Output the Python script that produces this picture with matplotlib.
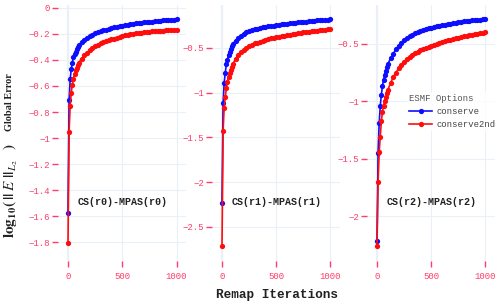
import numpy as np
import matplotlib
matplotlib.use("Agg")
import matplotlib.pyplot as plt

# remap iteration grid (dense near 0, every 25 after 100)
iterations = list(range(0, 101, 10)) + list(range(125, 1001, 25))

# log10 global error
conserve_r0 = [-1.58, -0.71, -0.55, -0.47, -0.42, -0.38, -0.355, -0.335, -0.315, -0.30, -0.285,
               -0.262, -0.243, -0.228, -0.215, -0.204, -0.195, -0.187, -0.180,
               -0.173, -0.167, -0.161, -0.155, -0.150, -0.145, -0.140, -0.135, -0.131, -0.127,
               -0.124, -0.121, -0.118, -0.115, -0.112, -0.110, -0.108, -0.106, -0.104, -0.102,
               -0.100, -0.098, -0.096, -0.094, -0.093, -0.091, -0.090, -0.088]
conserve2nd_r0 = [-1.81, -0.95, -0.75, -0.65, -0.59, -0.545, -0.51, -0.48, -0.46, -0.44, -0.42,
                  -0.39, -0.365, -0.345, -0.325, -0.31, -0.295, -0.282, -0.270,
                  -0.262, -0.255, -0.248, -0.242, -0.236, -0.228, -0.221, -0.215, -0.210, -0.206,
                  -0.202, -0.198, -0.195, -0.192, -0.189, -0.186, -0.184, -0.182, -0.180, -0.178,
                  -0.177, -0.175, -0.174, -0.173, -0.172, -0.171, -0.170, -0.169]
conserve_r1 = [-2.235, -1.12, -0.89, -0.78, -0.68, -0.634, -0.575, -0.54, -0.51, -0.48, -0.455,
               -0.418, -0.388, -0.362, -0.340, -0.325, -0.312, -0.300, -0.290,
               -0.283, -0.277, -0.271, -0.265, -0.260, -0.255, -0.250, -0.245, -0.241, -0.237,
               -0.233, -0.229, -0.225, -0.221, -0.218, -0.214, -0.211, -0.208, -0.205, -0.202,
               -0.199, -0.196, -0.193, -0.190, -0.188, -0.185, -0.183, -0.180]
conserve2nd_r1 = [-2.71, -1.43, -1.17, -1.05, -0.95, -0.876, -0.82, -0.78, -0.745, -0.71, -0.68,
                  -0.62, -0.58, -0.545, -0.52, -0.50, -0.48, -0.465, -0.45,
                  -0.44, -0.43, -0.42, -0.41, -0.40, -0.393, -0.387, -0.380, -0.374, -0.368,
                  -0.362, -0.356, -0.350, -0.345, -0.340, -0.335, -0.330, -0.325, -0.321, -0.317,
                  -0.313, -0.309, -0.305, -0.302, -0.299, -0.296, -0.293, -0.290]
conserve_r2 = [-2.22, -1.45, -1.19, -1.04, -0.943, -0.87, -0.815, -0.77, -0.735, -0.705, -0.675,
               -0.625, -0.585, -0.545, -0.515, -0.49, -0.468, -0.45, -0.433,
               -0.419, -0.406, -0.395, -0.385, -0.377, -0.370, -0.364, -0.358, -0.352, -0.347,
               -0.342, -0.337, -0.332, -0.327, -0.323, -0.318, -0.314, -0.310, -0.306, -0.303,
               -0.300, -0.297, -0.294, -0.292, -0.290, -0.288, -0.286, -0.284]
conserve2nd_r2 = [-2.257, -1.70, -1.445, -1.306, -1.175, -1.09, -1.04, -0.995, -0.96, -0.93, -0.90,
                  -0.84, -0.79, -0.75, -0.71, -0.68, -0.655, -0.632, -0.612,
                  -0.595, -0.58, -0.566, -0.553, -0.542, -0.532, -0.523, -0.515, -0.507, -0.499,
                  -0.491, -0.484, -0.477, -0.470, -0.463, -0.457, -0.451, -0.445, -0.439, -0.434,
                  -0.429, -0.424, -0.419, -0.415, -0.411, -0.407, -0.403, -0.400]

panel_names = ['CS(r0)-MPAS(r0)', 'CS(r1)-MPAS(r1)', 'CS(r2)-MPAS(r2)']
series_labels = ['conserve', 'conserve2nd']
x_ticks = [0, 500, 1000]
y_ticks = [
	[0, -0.2, -0.4, -0.6, -0.8, -1, -1.2, -1.4, -1.6, -1.8],
	[-0.5, -1, -1.5, -2, -2.5],
	[-0.5, -1, -1.5, -2],
]
y_limits = [(-1.946, 0.023), (-2.88, -0.02), (-2.39, -0.161)]

data = [
	(conserve_r0, conserve2nd_r0),
	(conserve_r1, conserve2nd_r1),
	(conserve_r2, conserve2nd_r2),
]

tick_color = '#ff3d6a'
grid_color = '#ebf0f8'
mono = 'Liberation Mono'
plt.rcParams['mathtext.fontset'] = 'stix'


def fmt(v):
	s = ('%g' % v)
	return s.replace('-', '\u2212')


W, H = 500, 306
fig = plt.figure(figsize=(5, 3.06), dpi=100)

# pixel x of the "0" tick for each panel
zero_px = [68, 222, 377]
px_per_unit = 0.1085
xlo, xhi = -90, 1085
top_px, bottom_px = 5, 261

axes = []
for i in range(3):
	left = zero_px[i] + xlo * px_per_unit
	right = zero_px[i] + xhi * px_per_unit
	ax = fig.add_axes([left / W, 1 - bottom_px / H, (right - left) / W, (bottom_px - top_px) / H])
	axes.append(ax)

	blue, red = data[i]
	ax.plot(iterations, blue, color='#0d0dff', lw=1.2, marker='o', ms=3.8, mew=0,
		label=series_labels[0], zorder=3, clip_on=False)
	ax.plot(iterations, red, color='#ff0d0d', lw=1.2, marker='o', ms=3.8, mew=0,
		label=series_labels[1], zorder=4, clip_on=False)

	ax.set_xlim(xlo, xhi)
	ax.set_ylim(*y_limits[i])
	ax.set_xticks(x_ticks)
	ax.set_xticklabels([str(t) for t in x_ticks])
	ax.set_yticks(y_ticks[i])
	ax.set_yticklabels([fmt(t) for t in y_ticks[i]])

	for sp in ax.spines.values():
		sp.set_visible(False)
	ax.grid(True, color=grid_color, lw=0.8, zorder=0)
	ax.axvline(0, color=grid_color, lw=1.6, zorder=1)
	ax.tick_params(axis='both', colors=tick_color, length=4.3, width=1.0, labelsize=6.5, pad=1.6)
	for lab in ax.get_xticklabels() + ax.get_yticklabels():
		lab.set_family(mono)
	ax.tick_params(axis='x', pad=3.5)

	ax.text(500, 0.23, panel_names[i], transform=ax.get_xaxis_transform(),
		ha='center', va='center', family=mono, fontweight='bold', fontsize=7.2, color='#222222', zorder=5)

fig.text(277 / W, 1 - 295 / H, 'Remap Iterations', ha='center', va='center',
	family=mono, fontweight='bold', fontsize=9.2, color='#222222')

# y title: math part renders larger and looser than the plain words
fig.text(10 / W, 1 - 73 / H, 'Global Error', rotation=90, ha='center', va='top',
	family='Liberation Serif', fontweight='bold', fontsize=7.4, color='#222222')
fig.text(11 / W, 1 - 238 / H,
	r'$\mathbf{log}_{\mathbf{10}}\mathbf{(\,||}\;E\;\mathbf{||}_{L_{2}}\quad\mathbf{)}\;$',
	rotation=90, ha='center', va='bottom', fontsize=11, color='#222222')

handles, labels = axes[2].get_legend_handles_labels()
leg = fig.legend(handles, labels, title='ESMF Options', loc='upper left',
	bbox_to_anchor=(403 / W, 1 - 88 / H), frameon=True, prop={'family': mono, 'size': 6.4},
	handlelength=2.6, handletextpad=0.5, labelspacing=0.45, borderpad=0.2, alignment='left')
leg.get_frame().set_facecolor('white')
leg.get_frame().set_edgecolor('none')
leg.get_title().set_family(mono)
leg.get_title().set_fontsize(6.4)
leg.get_title().set_color('#555555')
for t in leg.get_texts():
	t.set_color('#444444')

fig.savefig('out.png', dpi=100)
